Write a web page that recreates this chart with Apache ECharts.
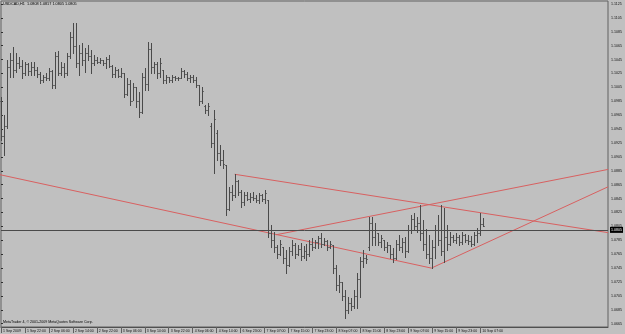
<!DOCTYPE html>
<html><head><meta charset="utf-8">
<script src="https://cdn.jsdelivr.net/npm/echarts@6/dist/echarts.min.js"></script>
<style>html,body{margin:0;padding:0;background:#c0c0c0;}#c{width:625px;height:334px;}</style>
</head><body><div id="c"></div>
<script>
const symbolName = 'USDCAD,H1';
const timeLabels = ['1 Sep 2009','1 Sep 22:00','2 Sep 06:00','2 Sep 14:00','2 Sep 22:00','3 Sep 06:00','3 Sep 14:00','3 Sep 22:00','4 Sep 06:00','4 Sep 14:00','6 Sep 23:00','7 Sep 07:00','7 Sep 15:00','7 Sep 23:00','8 Sep 07:00','8 Sep 15:00','8 Sep 23:00','9 Sep 07:00','9 Sep 15:00','9 Sep 23:00','10 Sep 07:00'];
const barsPerLabel = 8;
const priceTicks = [1.0665,1.0685,1.0705,1.0725,1.0745,1.0765,1.0785,1.0805,1.0825,1.0845,1.0865,1.0885,1.0905,1.0925,1.0945,1.0965,1.0985,1.1005,1.1025,1.1045,1.1065,1.1085,1.1105,1.1125];

const opens = [
1.0985,1.0935,1.0950,1.1035,1.1045,1.1030,1.1040,1.1036,1.1025,1.1038,
1.1028,1.1035,1.1030,1.1024,1.1015,1.1020,1.1018,1.1028,1.1008,1.1050,
1.1026,1.1035,1.1025,1.1050,1.1078,1.1065,1.1040,1.1055,1.1045,1.1055,
1.1050,1.1040,1.1045,1.1042,1.1044,1.1040,1.1046,1.1036,1.1024,1.1030,
1.1022,1.1025,1.0995,1.1010,1.0985,1.1005,1.0985,1.0970,1.1020,1.1010,
1.1060,1.1035,1.1038,1.1025,1.1030,1.1015,1.1020,1.1016,1.1020,1.1018,
1.1019,1.1028,1.1024,1.1018,1.1020,1.1015,1.1008,1.0985,1.0978,1.0972,
1.0950,1.0925,1.0940,1.0910,1.0900,1.0893,1.0830,1.0855,1.0850,1.0870,
1.0855,1.0840,1.0850,1.0845,1.0848,1.0846,1.0843,1.0850,1.0845,1.0843,
1.0795,1.0785,1.0775,1.0765,1.0775,1.0760,1.0750,1.0770,1.0778,1.0765,
1.0772,1.0762,1.0770,1.0765,1.0780,1.0775,1.0782,1.0788,1.0780,1.0784,
1.0776,1.0778,1.0745,1.0720,1.0725,1.0705,1.0685,1.0695,1.0690,1.0705,
1.0730,1.0755,1.0760,1.0775,1.0810,1.0790,1.0795,1.0782,1.0785,1.0775,
1.0778,1.0765,1.0760,1.0780,1.0775,1.0782,1.0770,1.0800,1.0815,1.0805,
1.0810,1.0795,1.0780,1.0765,1.0760,1.0775,1.0800,1.0785,1.0770,1.0790,
1.0780,1.0790,1.0785,1.0790,1.0782,1.0792,1.0786,1.0784,1.0780,1.0793,
1.0795,1.0808];
const highs = [
1.0991,1.0966,1.1044,1.1055,1.1063,1.1055,1.1049,1.1044,1.1042,1.1040,
1.1042,1.1042,1.1034,1.1027,1.1023,1.1026,1.1033,1.1030,1.1056,1.1057,
1.1042,1.1040,1.1055,1.1085,1.1098,1.1098,1.1066,1.1069,1.1062,1.1066,
1.1059,1.1052,1.1049,1.1047,1.1044,1.1049,1.1052,1.1037,1.1034,1.1031,
1.1033,1.1026,1.1019,1.1016,1.1011,1.1006,1.0998,1.1026,1.1033,1.1070,
1.1069,1.1042,1.1042,1.1047,1.1030,1.1023,1.1020,1.1023,1.1021,1.1020,
1.1033,1.1030,1.1027,1.1023,1.1023,1.1020,1.1008,1.1006,1.0980,1.0983,
1.0954,1.0972,1.0944,1.0922,1.0915,1.0893,1.0862,1.0864,1.0880,1.0872,
1.0857,1.0855,1.0855,1.0853,1.0855,1.0850,1.0853,1.0852,1.0857,1.0843,
1.0807,1.0797,1.0778,1.0785,1.0775,1.0771,1.0775,1.0785,1.0781,1.0778,
1.0781,1.0777,1.0779,1.0785,1.0788,1.0785,1.0791,1.0795,1.0788,1.0785,
1.0784,1.0778,1.0749,1.0735,1.0725,1.0713,1.0703,1.0702,1.0713,1.0738,
1.0761,1.0771,1.0764,1.0818,1.0818,1.0810,1.0795,1.0793,1.0785,1.0782,
1.0778,1.0774,1.0785,1.0793,1.0788,1.0790,1.0807,1.0821,1.0824,1.0818,
1.0836,1.0814,1.0801,1.0793,1.0785,1.0807,1.0821,1.0836,1.0831,1.0807,
1.0797,1.0793,1.0795,1.0793,1.0797,1.0794,1.0793,1.0791,1.0797,1.0803,
1.0824,1.0817];
const lows = [
1.0929,1.0908,1.0947,1.1020,1.1020,1.1027,1.1033,1.1019,1.1023,1.1023,
1.1023,1.1023,1.1020,1.1011,1.1013,1.1016,1.1016,1.1004,1.1004,1.1023,
1.1023,1.1020,1.1023,1.1047,1.1055,1.1034,1.1023,1.1037,1.1027,1.1044,
1.1026,1.1037,1.1040,1.1040,1.1037,1.1033,1.1034,1.1020,1.1020,1.1020,
1.1020,1.0991,1.0994,1.0980,1.0987,1.0977,1.0962,1.0968,1.1001,1.1001,
1.1026,1.1026,1.1019,1.1020,1.1011,1.1011,1.1013,1.1013,1.1016,1.1016,
1.1019,1.1020,1.1016,1.1013,1.1013,1.1006,1.0980,1.0983,1.0968,1.0965,
1.0919,1.0882,1.0901,1.0893,1.0889,1.0821,1.0828,1.0843,1.0847,1.0850,
1.0833,1.0836,1.0843,1.0840,1.0843,1.0840,1.0839,1.0841,1.0839,1.0790,
1.0775,1.0768,1.0760,1.0764,1.0752,1.0738,1.0748,1.0764,1.0760,1.0764,
1.0757,1.0760,1.0757,1.0763,1.0771,1.0774,1.0774,1.0775,1.0778,1.0771,
1.0774,1.0738,1.0713,1.0711,1.0699,1.0673,1.0680,1.0685,1.0688,1.0688,
1.0703,1.0747,1.0752,1.0771,1.0778,1.0778,1.0778,1.0775,1.0771,1.0768,
1.0760,1.0754,1.0758,1.0771,1.0768,1.0761,1.0768,1.0795,1.0800,1.0797,
1.0785,1.0771,1.0760,1.0752,1.0745,1.0760,1.0778,1.0764,1.0754,1.0771,
1.0778,1.0782,1.0781,1.0778,1.0780,1.0782,1.0779,1.0777,1.0778,1.0782,
1.0793,1.0805];
const closes = [
1.0935,1.0950,1.1035,1.1045,1.1030,1.1040,1.1036,1.1025,1.1038,1.1028,
1.1035,1.1030,1.1024,1.1015,1.1020,1.1018,1.1028,1.1008,1.1050,1.1026,
1.1035,1.1025,1.1050,1.1078,1.1065,1.1040,1.1055,1.1045,1.1055,1.1050,
1.1040,1.1045,1.1042,1.1044,1.1040,1.1046,1.1036,1.1024,1.1030,1.1022,
1.1025,1.0995,1.1010,1.0985,1.1005,1.0985,1.0970,1.1020,1.1010,1.1060,
1.1035,1.1038,1.1025,1.1040,1.1015,1.1020,1.1016,1.1020,1.1018,1.1019,
1.1028,1.1024,1.1018,1.1020,1.1015,1.1008,1.0985,1.1000,1.0972,1.0978,
1.0925,1.0960,1.0910,1.0900,1.0895,1.0830,1.0855,1.0850,1.0870,1.0855,
1.0840,1.0850,1.0845,1.0848,1.0846,1.0843,1.0850,1.0845,1.0853,1.0795,
1.0785,1.0775,1.0765,1.0780,1.0760,1.0750,1.0770,1.0778,1.0765,1.0772,
1.0762,1.0770,1.0765,1.0780,1.0775,1.0782,1.0788,1.0780,1.0784,1.0776,
1.0780,1.0745,1.0720,1.0725,1.0705,1.0685,1.0695,1.0690,1.0705,1.0730,
1.0755,1.0760,1.0758,1.0810,1.0790,1.0800,1.0782,1.0788,1.0775,1.0778,
1.0765,1.0760,1.0780,1.0775,1.0782,1.0770,1.0800,1.0815,1.0805,1.0810,
1.0795,1.0780,1.0765,1.0760,1.0775,1.0800,1.0785,1.0770,1.0790,1.0780,
1.0790,1.0785,1.0790,1.0782,1.0792,1.0786,1.0784,1.0780,1.0793,1.0795,
1.0808,1.0805];

// trendlines: [barIndex, price] endpoints
const trendA = [[-1, 1.0880], [143.7, 1.0745]];
const trendB = [[143.7, 1.0745], [202.7, 1.0862]];
const trendC = [[78, 1.0880], [202.7, 1.0796]];
const trendD = [[91.9, 1.0793], [202.7, 1.0887]];

const slotsVisible = 202.67;
const lastIdx = closes.length - 1;
const header = symbolName + '  ' + [opens[lastIdx], highs[lastIdx], lows[lastIdx], closes[lastIdx]].map(v => v.toFixed(4)).join(' ');
const ohlc = opens.map((o, i) => [i, o, highs[i], lows[i], closes[i]]);
const labelIdx = timeLabels.map((_, k) => k * barsPerLabel);

const barColor = '#4a4a4a';
const tickColor = '#6a6a6a';
const red = '#d86060';

const chart = echarts.init(document.getElementById('c'), null, {renderer: 'canvas'});
const trendSeries = (name, data, extra) => Object.assign({
  name, type: 'line', data, symbol: 'none', silent: true, animation: false,
  lineStyle: {color: red, width: 1}, z: 3
}, extra || {});

chart.setOption({
  backgroundColor: '#c0c0c0',
  animation: false,
  title: {text: header, left: 3, top: 2, padding: 0, textStyle: {fontSize: 3.8, fontWeight: 'normal', color: '#000', fontFamily: 'Liberation Sans'}},
  graphic: [{type: 'text', left: 3, top: 320, style: {text: 'MetaTrader 4, \u00a9 2001-2009 MetaQuotes Software Corp.', fontSize: 3.6, fill: '#000', fontFamily: 'Liberation Sans'}}],
  grid: {left: 1, right: 16, top: 1, bottom: 7, show: true, borderColor: '#606060', borderWidth: 1, backgroundColor: 'transparent'},
  xAxis: {
    type: 'value', min: 0, max: slotsVisible,
    axisLine: {show: true, lineStyle: {color: '#505050'}},
    splitLine: {show: false},
    axisTick: {show: true, customValues: labelIdx, length: 6, lineStyle: {color: '#606060'}},
    axisLabel: {customValues: labelIdx, formatter: v => timeLabels[Math.round(v / barsPerLabel)] || '',
      fontSize: 3.5, color: '#111', align: 'left', margin: 2, padding: [0, 0, 0, 2], fontFamily: 'Liberation Sans'}
  },
  yAxis: {
    type: 'value', position: 'right', min: 1.066025, max: 1.112931, scale: true,
    axisLine: {show: false},
    splitLine: {show: false},
    axisTick: {show: true, customValues: priceTicks, length: 2, lineStyle: {color: '#303030'}},
    axisLabel: {customValues: priceTicks, formatter: v => v.toFixed(4), fontSize: 3.6, color: '#111', margin: 3, fontFamily: 'Liberation Sans'}
  },
  series: [
    {
      type: 'custom', name: 'bars', data: ohlc, encode: {x: 0, y: [1, 2, 3, 4]}, z: 4, silent: true,
      renderItem: (params, api) => {
        const i = api.value(0);
        const pH = api.coord([i, api.value(2)]);
        const pL = api.coord([i, api.value(3)]);
        const pO = api.coord([i, api.value(1)]);
        const pC = api.coord([i, api.value(4)]);
        const x = Math.round(pH[0]) + 0.5;
        const yo = Math.round(pO[1]) + 0.5, yc = Math.round(pC[1]) + 0.5;
        const st = {stroke: barColor, lineWidth: 1};
        const tk = {stroke: tickColor, lineWidth: 1};
        return {type: 'group', children: [
          {type: 'line', shape: {x1: x, y1: Math.round(pH[1]), x2: x, y2: Math.round(pL[1]) + 1}, style: st},
          {type: 'line', shape: {x1: x - 1.5, y1: yo, x2: x - 0.5, y2: yo}, style: tk},
          {type: 'line', shape: {x1: x + 0.5, y1: yc, x2: x + 1.5, y2: yc}, style: tk}
        ]};
      }
    },
    trendSeries('A', trendA, {
      markLine: {
        symbol: 'none', silent: true, animation: false,
        data: [{yAxis: closes[lastIdx]}],
        lineStyle: {color: '#4a4a4a', type: 'solid', width: 1},
        label: {show: true, position: 'end', distance: 2, formatter: closes[lastIdx].toFixed(4),
          backgroundColor: '#000', color: '#fff', fontSize: 3.6, padding: [1, 1, 1, 1], fontFamily: 'Liberation Sans'}
      }
    }),
    trendSeries('B', trendB),
    trendSeries('C', trendC),
    trendSeries('D', trendD)
  ]
});
</script>
</body></html>
